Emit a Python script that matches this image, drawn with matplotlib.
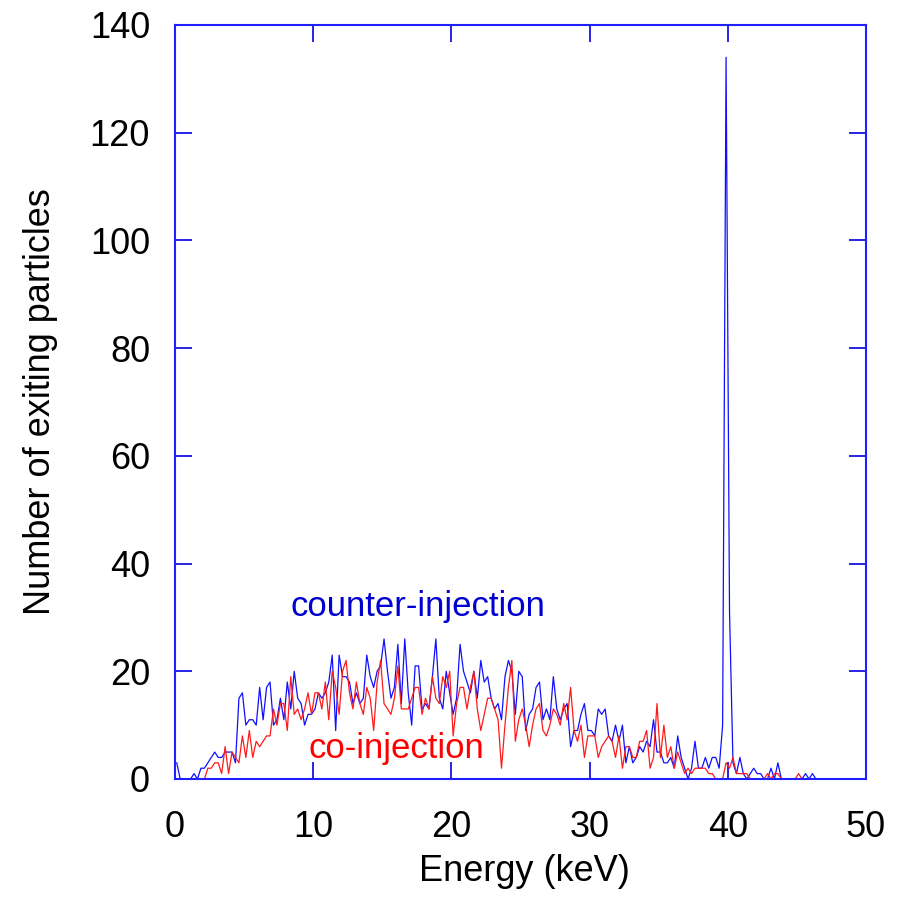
import numpy as np
import matplotlib
matplotlib.use("Agg")
import matplotlib.pyplot as plt

plt.rcParams['font.family'] = ['Liberation Sans', 'DejaVu Sans']

# 0.25 keV bins, value plotted at the bin centre
bin_width = 0.25
counter_injection = [
    3, 0, 0, 0, 0, 1, 0, 2, 2, 3,
    4, 5, 4, 4, 5, 5, 5, 3, 15, 16,
    10, 11, 11, 10, 17, 11, 17, 18, 10, 11,
    15, 11, 18, 13, 20, 15, 14, 10, 12, 12,
    13, 16, 15, 16, 18, 23, 9, 23, 19, 19,
    18, 14, 16, 14, 15, 23, 19, 17, 20, 21,
    26, 20, 15, 17, 25, 14, 26, 16, 10, 21,
    21, 13, 14, 13, 19, 26, 15, 13, 20, 16,
    12, 15, 25, 20, 18, 16, 20, 15, 22, 18,
    19, 15, 13, 14, 11, 19, 22, 20, 12, 20,
    19, 9, 12, 13, 17, 18, 11, 13, 11, 19,
    13, 11, 13, 14, 6, 9, 9, 12, 14, 9,
    9, 8, 13, 12, 13, 8, 7, 10, 7, 10,
    3, 6, 3, 4, 6, 5, 7, 6, 11, 5,
    5, 3, 3, 4, 2, 8, 4, 2, 0, 2,
    7, 2, 2, 4, 2, 4, 4, 2, 10, 134,
    31, 3, 1, 4, 1, 0, 1, 2, 1, 1,
    0, 0, 2, 0, 3, 0, 0, 0, 0, 0,
    0, 0, 1, 0, 1, 0, 0, 0, 0, 0,
    0, 0, 0, 0, 0, 0, 0, 0, 0, 0,
]
co_injection = [
    0, 0, 0, 0, 0, 0, 0, 0, 0, 2,
    2, 3, 3, 1, 6, 1, 5, 4, 3, 8,
    4, 9, 4, 7, 6, 7, 8, 8, 13, 10,
    14, 14, 9, 19, 12, 13, 11, 13, 16, 12,
    16, 16, 13, 18, 11, 20, 17, 12, 20, 22,
    16, 13, 18, 14, 12, 17, 15, 9, 18, 22,
    14, 13, 12, 15, 21, 13, 13, 13, 15, 17,
    17, 12, 15, 13, 19, 15, 14, 19, 17, 20,
    8, 14, 17, 17, 13, 17, 20, 13, 9, 12,
    15, 15, 13, 11, 2, 10, 17, 22, 7, 11,
    13, 10, 6, 10, 13, 14, 9, 8, 10, 13,
    12, 10, 14, 11, 17, 9, 7, 10, 4, 8,
    8, 8, 4, 6, 7, 8, 7, 4, 8, 2,
    6, 6, 4, 4, 7, 7, 9, 2, 4, 14,
    4, 10, 4, 6, 2, 5, 3, 1, 2, 1,
    2, 2, 2, 2, 1, 1, 0, 0, 0, 3,
    2, 4, 1, 1, 1, 1, 0, 0, 0, 0,
    0, 1, 0, 1, 1, 0, 0, 0, 0, 0,
    1, 0, 0, 0, 0, 0, 0, 0, 0, 0,
    0, 0, 0, 0, 0, 0, 0, 0, 0, 0,
]
energy = bin_width * (np.arange(len(counter_injection)) + 0.5)

x_ticks = [0, 10, 20, 30, 40, 50]
y_ticks = [0, 20, 40, 60, 80, 100, 120, 140]

fig = plt.figure(figsize=(9.05, 8.99), dpi=100)
ax = fig.add_axes([0.1934, 0.1335, 0.7635, 0.8387])

ax.plot(energy, counter_injection, color='#1010ff', lw=0.9)
ax.plot(energy, co_injection, color='#ff1a1a', lw=0.9)

ax.text(17.6, 32, 'counter-injection', color='#0000d0', fontsize=25,
        ha='center', va='center')
ax.text(16.0, 5.6, 'co-injection', color='#ff0000', fontsize=25,
        ha='center', va='center')

ax.set_xlim(0, 50)
ax.set_ylim(0, 140)
ax.set_xticks(x_ticks)
ax.set_yticks(y_ticks)
ax.tick_params(direction='in', length=12, width=1.2, color='#0000e0',
               top=True, right=True, labelsize=26)
ax.tick_params(axis='x', pad=22)
ax.tick_params(axis='y', pad=18)
for sp in ax.spines.values():
    sp.set_color('#2020ff')
    sp.set_linewidth(1.5)

ax.set_xlabel('Energy (keV)', fontsize=26)
ax.set_ylabel('Number of exiting particles', fontsize=26)
ax.xaxis.set_label_coords(0.505, -0.10)
ax.yaxis.set_label_coords(-0.17, 0.5)

fig.savefig('out.png', dpi=100)
